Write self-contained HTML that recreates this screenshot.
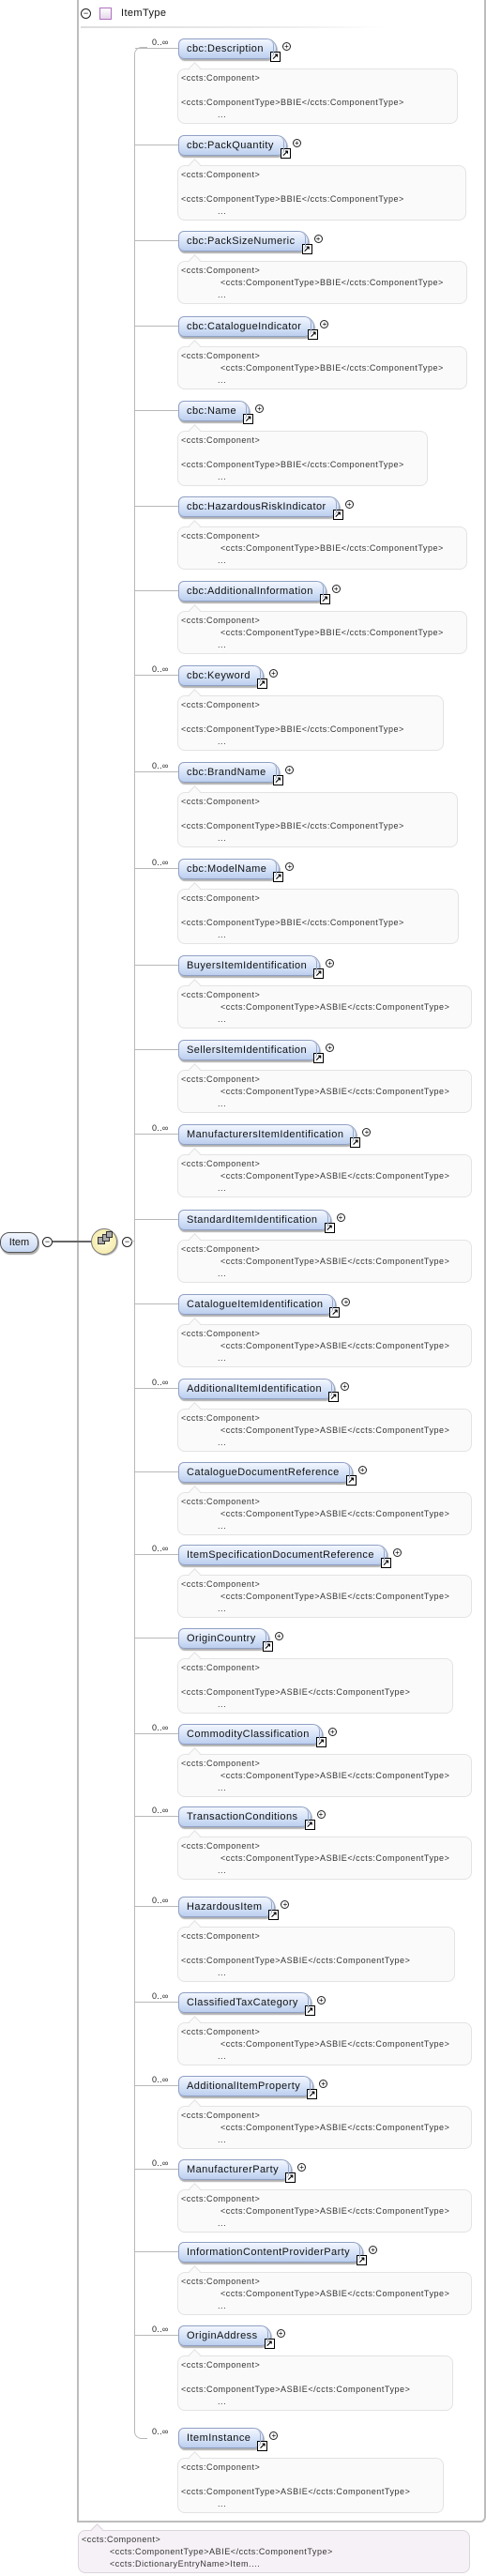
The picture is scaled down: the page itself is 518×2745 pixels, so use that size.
<!DOCTYPE html>
<html><head><meta charset="utf-8"><style>
body{margin:0;width:518px;height:2745px;background:#fff;position:relative;overflow:hidden;font-family:"Liberation Sans",sans-serif}
.a{position:absolute}
.it{position:absolute;left:0;width:518px;height:10px}
.n{position:absolute;left:190px;top:0;height:20px;border:1px solid #8fa0c4;border-radius:6px 11px 11px 6px;background:linear-gradient(#f3f7fe,#d2e0f7 60%,#bccfee);box-shadow:1px 2px 1px #b0b0b0;font-size:11px;letter-spacing:0.45px;line-height:20px;padding:0 13px 0 8px;color:#111;white-space:nowrap}
.n:after{content:"";position:absolute;right:2px;top:2px;bottom:1px;width:3px;border-right:1px solid #9aa9c8;border-radius:0 8px 8px 0}
.ic{position:absolute;right:-5px;top:13px;width:9px;height:9px;border:1px solid #000;background:#fff;font-size:9px;line-height:9px;text-align:center;color:#000;font-weight:bold;letter-spacing:0}
.pl{position:absolute;right:-16px;top:3px;width:7px;height:7px;border:1px solid #222;border-radius:50%;background:#fff;font-size:8px;line-height:7px;text-align:center;letter-spacing:0;color:#000}
.h{position:absolute;left:144px;top:10px;width:46px;border-top:1px solid #b8b8b8}
.cd{position:absolute;left:162px;top:-1px;font-size:9px;color:#222;letter-spacing:0.3px}
.c{position:absolute;left:189px;top:32px;border:1px solid #e3e3e3;border-radius:8px;background:#fafafa}
.c.t{height:57px}.c.s{height:44px}
.pt{position:absolute;left:203px;top:27px;width:8px;height:8px;background:#fafafa;border-left:1px solid #e3e3e3;border-top:1px solid #e3e3e3;transform:rotate(45deg);z-index:1}
.l{position:absolute;font-size:9px;letter-spacing:0.55px;color:#333;white-space:nowrap;line-height:10px}
</style></head><body>

<!-- outer box -->
<div class="a" style="left:82px;top:-4px;width:432px;height:2688px;border:2px solid #bdbdbd;border-radius:0 0 6px 0"></div>
<div class="a" style="left:86px;top:9px;width:9px;height:9px;border:1px solid #222;border-radius:50%;font-size:9px;line-height:8px;text-align:center">−</div>
<div class="a" style="left:106px;top:8px;width:11px;height:11px;border:1px solid #b070c0;background:linear-gradient(#fff,#e4d8ea)"></div>
<div class="a" style="left:129px;top:8px;font-size:11px;letter-spacing:0.4px;color:#111">ItemType</div>
<div class="a" style="left:86px;top:28px;width:324px;height:2px;background:linear-gradient(90deg,#ddd,#eee 70%,#fff)"></div>

<!-- vertical connector -->
<div class="a" style="left:143px;top:50px;width:14px;height:2547px;border:1px solid #b8b8b8;border-right:none;border-radius:8px 0 0 8px"></div>
<div class="a" style="left:157px;top:49px;width:40px;height:3px;background:#fff"></div>
<div class="a" style="left:157px;top:2596px;width:40px;height:3px;background:#fff"></div>

<!-- Item and sequence -->
<div class="a" style="left:0;top:1313px;width:39px;height:20px;border:1px solid #555;border-radius:10px;background:linear-gradient(#f3f7fe,#c6d7f2);box-shadow:1px 2px 1px #aaa;font-size:11px;line-height:20px;text-align:center;color:#111">Item</div>
<div class="a" style="left:45px;top:1318px;width:9px;height:9px;border:1px solid #222;border-radius:50%;font-size:9px;line-height:8px;text-align:center">−</div>
<div class="a" style="left:56px;top:1322px;width:41px;border-top:2px solid #666"></div>
<div class="a" style="left:97px;top:1309px;width:26px;height:26px;border:1px solid #777;border-radius:50%;background:radial-gradient(#fffbd8,#f2e6a0);box-shadow:1px 1px 1px #aaa"></div>
<div class="a" style="left:104px;top:1318px;width:6px;height:6px;border:1px solid #333;background:#aaa"></div>
<div class="a" style="left:109px;top:1315px;width:6px;height:6px;border:1px solid #333;background:#aaa"></div>
<div class="a" style="left:113px;top:1312px;width:5px;height:5px;border:1px solid #333;background:#aaa"></div>
<div class="a" style="left:130px;top:1318px;width:9px;height:9px;border:1px solid #222;border-radius:50%;font-size:9px;line-height:8px;text-align:center">−</div>
<div class="a" style="left:140px;top:1322px;width:4px;border-top:1px solid #b8b8b8"></div>

<!-- items -->
<div class="it" style="top:41px"><div class="h"></div><div class="cd">0..∞</div><div class="n">cbc:Description<span class="ic">↗</span><span class="pl">+</span></div><div class="pt"></div><div class="c t" style="width:297px"><div class="l" style="left:3px;top:4px">&lt;ccts:Component&gt;</div><div class="l" style="left:3px;top:30px">&lt;ccts:ComponentType&gt;BBIE&lt;/ccts:ComponentType&gt;</div><div class="l" style="left:42px;top:43px">...</div></div></div>

<div class="it" style="top:144px"><div class="h"></div><div class="n">cbc:PackQuantity<span class="ic">↗</span><span class="pl">+</span></div><div class="pt"></div><div class="c t" style="width:306px"><div class="l" style="left:3px;top:4px">&lt;ccts:Component&gt;</div><div class="l" style="left:3px;top:30px">&lt;ccts:ComponentType&gt;BBIE&lt;/ccts:ComponentType&gt;</div><div class="l" style="left:42px;top:43px">...</div></div></div>

<div class="it" style="top:246px"><div class="h"></div><div class="n">cbc:PackSizeNumeric<span class="ic">↗</span><span class="pl">+</span></div><div class="pt"></div><div class="c s" style="width:307px"><div class="l" style="left:3px;top:4px">&lt;ccts:Component&gt;</div><div class="l" style="left:45px;top:17px">&lt;ccts:ComponentType&gt;BBIE&lt;/ccts:ComponentType&gt;</div><div class="l" style="left:42px;top:30px">...</div></div></div>

<div class="it" style="top:337px"><div class="h"></div><div class="n">cbc:CatalogueIndicator<span class="ic">↗</span><span class="pl">+</span></div><div class="pt"></div><div class="c s" style="width:307px"><div class="l" style="left:3px;top:4px">&lt;ccts:Component&gt;</div><div class="l" style="left:45px;top:17px">&lt;ccts:ComponentType&gt;BBIE&lt;/ccts:ComponentType&gt;</div><div class="l" style="left:42px;top:30px">...</div></div></div>

<div class="it" style="top:427px"><div class="h"></div><div class="n">cbc:Name<span class="ic">↗</span><span class="pl">+</span></div><div class="pt"></div><div class="c t" style="width:265px"><div class="l" style="left:3px;top:4px">&lt;ccts:Component&gt;</div><div class="l" style="left:3px;top:30px">&lt;ccts:ComponentType&gt;BBIE&lt;/ccts:ComponentType&gt;</div><div class="l" style="left:42px;top:43px">...</div></div></div>

<div class="it" style="top:529px"><div class="h"></div><div class="n">cbc:HazardousRiskIndicator<span class="ic">↗</span><span class="pl">+</span></div><div class="pt"></div><div class="c s" style="width:307px"><div class="l" style="left:3px;top:4px">&lt;ccts:Component&gt;</div><div class="l" style="left:45px;top:17px">&lt;ccts:ComponentType&gt;BBIE&lt;/ccts:ComponentType&gt;</div><div class="l" style="left:42px;top:30px">...</div></div></div>

<div class="it" style="top:619px"><div class="h"></div><div class="n">cbc:AdditionalInformation<span class="ic">↗</span><span class="pl">+</span></div><div class="pt"></div><div class="c s" style="width:307px"><div class="l" style="left:3px;top:4px">&lt;ccts:Component&gt;</div><div class="l" style="left:45px;top:17px">&lt;ccts:ComponentType&gt;BBIE&lt;/ccts:ComponentType&gt;</div><div class="l" style="left:42px;top:30px">...</div></div></div>

<div class="it" style="top:709px"><div class="h"></div><div class="cd">0..∞</div><div class="n">cbc:Keyword<span class="ic">↗</span><span class="pl">+</span></div><div class="pt"></div><div class="c t" style="width:282px"><div class="l" style="left:3px;top:4px">&lt;ccts:Component&gt;</div><div class="l" style="left:3px;top:30px">&lt;ccts:ComponentType&gt;BBIE&lt;/ccts:ComponentType&gt;</div><div class="l" style="left:42px;top:43px">...</div></div></div>

<div class="it" style="top:812px"><div class="h"></div><div class="cd">0..∞</div><div class="n">cbc:BrandName<span class="ic">↗</span><span class="pl">+</span></div><div class="pt"></div><div class="c t" style="width:297px"><div class="l" style="left:3px;top:4px">&lt;ccts:Component&gt;</div><div class="l" style="left:3px;top:30px">&lt;ccts:ComponentType&gt;BBIE&lt;/ccts:ComponentType&gt;</div><div class="l" style="left:42px;top:43px">...</div></div></div>

<div class="it" style="top:915px"><div class="h"></div><div class="cd">0..∞</div><div class="n">cbc:ModelName<span class="ic">↗</span><span class="pl">+</span></div><div class="pt"></div><div class="c t" style="width:298px"><div class="l" style="left:3px;top:4px">&lt;ccts:Component&gt;</div><div class="l" style="left:3px;top:30px">&lt;ccts:ComponentType&gt;BBIE&lt;/ccts:ComponentType&gt;</div><div class="l" style="left:42px;top:43px">...</div></div></div>

<div class="it" style="top:1018px"><div class="h"></div><div class="n">BuyersItemIdentification<span class="ic">↗</span><span class="pl">+</span></div><div class="pt"></div><div class="c s" style="width:312px"><div class="l" style="left:3px;top:4px">&lt;ccts:Component&gt;</div><div class="l" style="left:45px;top:17px">&lt;ccts:ComponentType&gt;ASBIE&lt;/ccts:ComponentType&gt;</div><div class="l" style="left:42px;top:30px">...</div></div></div>

<div class="it" style="top:1108px"><div class="h"></div><div class="n">SellersItemIdentification<span class="ic">↗</span><span class="pl">+</span></div><div class="pt"></div><div class="c s" style="width:312px"><div class="l" style="left:3px;top:4px">&lt;ccts:Component&gt;</div><div class="l" style="left:45px;top:17px">&lt;ccts:ComponentType&gt;ASBIE&lt;/ccts:ComponentType&gt;</div><div class="l" style="left:42px;top:30px">...</div></div></div>

<div class="it" style="top:1198px"><div class="h"></div><div class="cd">0..∞</div><div class="n">ManufacturersItemIdentification<span class="ic">↗</span><span class="pl">+</span></div><div class="pt"></div><div class="c s" style="width:312px"><div class="l" style="left:3px;top:4px">&lt;ccts:Component&gt;</div><div class="l" style="left:45px;top:17px">&lt;ccts:ComponentType&gt;ASBIE&lt;/ccts:ComponentType&gt;</div><div class="l" style="left:42px;top:30px">...</div></div></div>

<div class="it" style="top:1289px"><div class="h"></div><div class="n">StandardItemIdentification<span class="ic">↗</span><span class="pl">+</span></div><div class="pt"></div><div class="c s" style="width:312px"><div class="l" style="left:3px;top:4px">&lt;ccts:Component&gt;</div><div class="l" style="left:45px;top:17px">&lt;ccts:ComponentType&gt;ASBIE&lt;/ccts:ComponentType&gt;</div><div class="l" style="left:42px;top:30px">...</div></div></div>

<div class="it" style="top:1379px"><div class="h"></div><div class="n">CatalogueItemIdentification<span class="ic">↗</span><span class="pl">+</span></div><div class="pt"></div><div class="c s" style="width:312px"><div class="l" style="left:3px;top:4px">&lt;ccts:Component&gt;</div><div class="l" style="left:45px;top:17px">&lt;ccts:ComponentType&gt;ASBIE&lt;/ccts:ComponentType&gt;</div><div class="l" style="left:42px;top:30px">...</div></div></div>

<div class="it" style="top:1469px"><div class="h"></div><div class="cd">0..∞</div><div class="n">AdditionalItemIdentification<span class="ic">↗</span><span class="pl">+</span></div><div class="pt"></div><div class="c s" style="width:312px"><div class="l" style="left:3px;top:4px">&lt;ccts:Component&gt;</div><div class="l" style="left:45px;top:17px">&lt;ccts:ComponentType&gt;ASBIE&lt;/ccts:ComponentType&gt;</div><div class="l" style="left:42px;top:30px">...</div></div></div>

<div class="it" style="top:1558px"><div class="h"></div><div class="n">CatalogueDocumentReference<span class="ic">↗</span><span class="pl">+</span></div><div class="pt"></div><div class="c s" style="width:312px"><div class="l" style="left:3px;top:4px">&lt;ccts:Component&gt;</div><div class="l" style="left:45px;top:17px">&lt;ccts:ComponentType&gt;ASBIE&lt;/ccts:ComponentType&gt;</div><div class="l" style="left:42px;top:30px">...</div></div></div>

<div class="it" style="top:1646px"><div class="h"></div><div class="cd">0..∞</div><div class="n">ItemSpecificationDocumentReference<span class="ic">↗</span><span class="pl">+</span></div><div class="pt"></div><div class="c s" style="width:312px"><div class="l" style="left:3px;top:4px">&lt;ccts:Component&gt;</div><div class="l" style="left:45px;top:17px">&lt;ccts:ComponentType&gt;ASBIE&lt;/ccts:ComponentType&gt;</div><div class="l" style="left:42px;top:30px">...</div></div></div>

<div class="it" style="top:1735px"><div class="h"></div><div class="n">OriginCountry<span class="ic">↗</span><span class="pl">+</span></div><div class="pt"></div><div class="c t" style="width:292px"><div class="l" style="left:3px;top:4px">&lt;ccts:Component&gt;</div><div class="l" style="left:3px;top:30px">&lt;ccts:ComponentType&gt;ASBIE&lt;/ccts:ComponentType&gt;</div><div class="l" style="left:42px;top:43px">...</div></div></div>

<div class="it" style="top:1837px"><div class="h"></div><div class="cd">0..∞</div><div class="n">CommodityClassification<span class="ic">↗</span><span class="pl">+</span></div><div class="pt"></div><div class="c s" style="width:312px"><div class="l" style="left:3px;top:4px">&lt;ccts:Component&gt;</div><div class="l" style="left:45px;top:17px">&lt;ccts:ComponentType&gt;ASBIE&lt;/ccts:ComponentType&gt;</div><div class="l" style="left:42px;top:30px">...</div></div></div>

<div class="it" style="top:1925px"><div class="h"></div><div class="cd">0..∞</div><div class="n">TransactionConditions<span class="ic">↗</span><span class="pl">+</span></div><div class="pt"></div><div class="c s" style="width:312px"><div class="l" style="left:3px;top:4px">&lt;ccts:Component&gt;</div><div class="l" style="left:45px;top:17px">&lt;ccts:ComponentType&gt;ASBIE&lt;/ccts:ComponentType&gt;</div><div class="l" style="left:42px;top:30px">...</div></div></div>

<div class="it" style="top:2021px"><div class="h"></div><div class="cd">0..∞</div><div class="n">HazardousItem<span class="ic">↗</span><span class="pl">+</span></div><div class="pt"></div><div class="c t" style="width:294px"><div class="l" style="left:3px;top:4px">&lt;ccts:Component&gt;</div><div class="l" style="left:3px;top:30px">&lt;ccts:ComponentType&gt;ASBIE&lt;/ccts:ComponentType&gt;</div><div class="l" style="left:42px;top:43px">...</div></div></div>

<div class="it" style="top:2123px"><div class="h"></div><div class="cd">0..∞</div><div class="n">ClassifiedTaxCategory<span class="ic">↗</span><span class="pl">+</span></div><div class="pt"></div><div class="c s" style="width:312px"><div class="l" style="left:3px;top:4px">&lt;ccts:Component&gt;</div><div class="l" style="left:45px;top:17px">&lt;ccts:ComponentType&gt;ASBIE&lt;/ccts:ComponentType&gt;</div><div class="l" style="left:42px;top:30px">...</div></div></div>

<div class="it" style="top:2212px"><div class="h"></div><div class="cd">0..∞</div><div class="n">AdditionalItemProperty<span class="ic">↗</span><span class="pl">+</span></div><div class="pt"></div><div class="c s" style="width:312px"><div class="l" style="left:3px;top:4px">&lt;ccts:Component&gt;</div><div class="l" style="left:45px;top:17px">&lt;ccts:ComponentType&gt;ASBIE&lt;/ccts:ComponentType&gt;</div><div class="l" style="left:42px;top:30px">...</div></div></div>

<div class="it" style="top:2301px"><div class="h"></div><div class="cd">0..∞</div><div class="n">ManufacturerParty<span class="ic">↗</span><span class="pl">+</span></div><div class="pt"></div><div class="c s" style="width:312px"><div class="l" style="left:3px;top:4px">&lt;ccts:Component&gt;</div><div class="l" style="left:45px;top:17px">&lt;ccts:ComponentType&gt;ASBIE&lt;/ccts:ComponentType&gt;</div><div class="l" style="left:42px;top:30px">...</div></div></div>

<div class="it" style="top:2389px"><div class="h"></div><div class="n">InformationContentProviderParty<span class="ic">↗</span><span class="pl">+</span></div><div class="pt"></div><div class="c s" style="width:312px"><div class="l" style="left:3px;top:4px">&lt;ccts:Component&gt;</div><div class="l" style="left:45px;top:17px">&lt;ccts:ComponentType&gt;ASBIE&lt;/ccts:ComponentType&gt;</div><div class="l" style="left:42px;top:30px">...</div></div></div>

<div class="it" style="top:2478px"><div class="h"></div><div class="cd">0..∞</div><div class="n">OriginAddress<span class="ic">↗</span><span class="pl">+</span></div><div class="pt"></div><div class="c t" style="width:292px"><div class="l" style="left:3px;top:4px">&lt;ccts:Component&gt;</div><div class="l" style="left:3px;top:30px">&lt;ccts:ComponentType&gt;ASBIE&lt;/ccts:ComponentType&gt;</div><div class="l" style="left:42px;top:43px">...</div></div></div>

<div class="it" style="top:2587px"><div class="cd">0..∞</div><div class="n">ItemInstance<span class="ic">↗</span><span class="pl">+</span></div><div class="pt"></div><div class="c t" style="width:282px"><div class="l" style="left:3px;top:4px">&lt;ccts:Component&gt;</div><div class="l" style="left:3px;top:30px">&lt;ccts:ComponentType&gt;ASBIE&lt;/ccts:ComponentType&gt;</div><div class="l" style="left:42px;top:43px">...</div></div></div>

<!-- bottom comment -->
<div class="a" style="left:99px;top:2691px;width:8px;height:8px;background:#f6f1f6;border-left:1px solid #dcd4dc;border-top:1px solid #dcd4dc;transform:rotate(45deg);z-index:1"></div>
<div class="a" style="left:83px;top:2696px;width:416px;height:44px;border:1px solid #dcd4dc;border-radius:8px;background:#f6f1f6">
<div class="l" style="left:3px;top:4px">&lt;ccts:Component&gt;</div>
<div class="l" style="left:33px;top:17px">&lt;ccts:ComponentType&gt;ABIE&lt;/ccts:ComponentType&gt;</div>
<div class="l" style="left:33px;top:30px">&lt;ccts:DictionaryEntryName&gt;Item....</div>
</div>
</body></html>
